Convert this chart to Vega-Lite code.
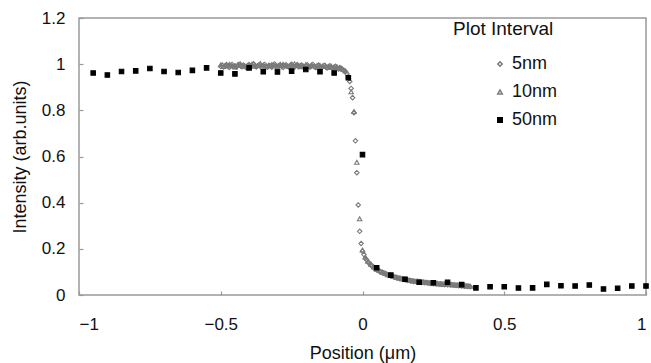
{
  "$schema": "https://vega.github.io/schema/vega-lite/v6.json",
  "width": 567,
  "height": 277,
  "autosize": "none",
  "padding": {"left": 79, "top": 18, "right": 5, "bottom": 68},
  "background": "white",
  "config": {
    "font": "Liberation Sans",
    "view": {"stroke": "#999", "strokeWidth": 1.5},
    "axis": {"grid": false, "domain": false, "tickColor": "#999", "tickWidth": 1.2, "tickSize": -4, "labelFontSize": 17, "labelColor": "#111", "titleFontSize": 18, "titleFontWeight": "normal", "titleColor": "#111"},
    "legend": {"labelFontSize": 18, "titleFontSize": 19, "titleFontWeight": "normal", "labelColor": "#111", "titleColor": "#111"}
  },
  "data": {"values": [
    {"s":"5nm","x":-0.500,"y":0.990},{"s":"5nm","x":-0.495,"y":0.996},{"s":"5nm","x":-0.490,"y":0.988},{"s":"5nm","x":-0.485,"y":0.993},{"s":"5nm","x":-0.480,"y":0.998},
    {"s":"5nm","x":-0.475,"y":0.991},{"s":"5nm","x":-0.470,"y":0.986},{"s":"5nm","x":-0.465,"y":0.994},{"s":"5nm","x":-0.460,"y":0.999},{"s":"5nm","x":-0.455,"y":0.990},
    {"s":"5nm","x":-0.450,"y":0.993},{"s":"5nm","x":-0.445,"y":0.987},{"s":"5nm","x":-0.440,"y":0.995},{"s":"5nm","x":-0.435,"y":1.000},{"s":"5nm","x":-0.430,"y":0.992},
    {"s":"5nm","x":-0.425,"y":0.989},{"s":"5nm","x":-0.420,"y":0.996},{"s":"5nm","x":-0.415,"y":0.991},{"s":"5nm","x":-0.410,"y":0.985},{"s":"5nm","x":-0.405,"y":0.994},
    {"s":"5nm","x":-0.400,"y":0.998},{"s":"5nm","x":-0.395,"y":0.990},{"s":"5nm","x":-0.390,"y":0.993},{"s":"5nm","x":-0.385,"y":1.002},{"s":"5nm","x":-0.380,"y":0.995},
    {"s":"5nm","x":-0.375,"y":0.988},{"s":"5nm","x":-0.370,"y":0.992},{"s":"5nm","x":-0.365,"y":0.997},{"s":"5nm","x":-0.360,"y":0.990},{"s":"5nm","x":-0.355,"y":0.986},
    {"s":"5nm","x":-0.350,"y":0.994},{"s":"5nm","x":-0.345,"y":0.999},{"s":"5nm","x":-0.340,"y":0.991},{"s":"5nm","x":-0.335,"y":0.988},{"s":"5nm","x":-0.330,"y":0.995},
    {"s":"5nm","x":-0.325,"y":0.992},{"s":"5nm","x":-0.320,"y":0.987},{"s":"5nm","x":-0.315,"y":0.996},{"s":"5nm","x":-0.310,"y":1.001},{"s":"5nm","x":-0.305,"y":0.993},
    {"s":"5nm","x":-0.300,"y":0.989},{"s":"5nm","x":-0.295,"y":0.994},{"s":"5nm","x":-0.290,"y":0.998},{"s":"5nm","x":-0.285,"y":0.990},{"s":"5nm","x":-0.280,"y":0.986},
    {"s":"5nm","x":-0.275,"y":0.993},{"s":"5nm","x":-0.270,"y":0.997},{"s":"5nm","x":-0.265,"y":0.991},{"s":"5nm","x":-0.260,"y":0.988},{"s":"5nm","x":-0.255,"y":0.995},
    {"s":"5nm","x":-0.250,"y":1.000},{"s":"5nm","x":-0.245,"y":0.992},{"s":"5nm","x":-0.240,"y":0.987},{"s":"5nm","x":-0.235,"y":0.994},{"s":"5nm","x":-0.230,"y":0.998},
    {"s":"5nm","x":-0.225,"y":0.990},{"s":"5nm","x":-0.220,"y":0.993},{"s":"5nm","x":-0.215,"y":0.996},{"s":"5nm","x":-0.210,"y":0.989},{"s":"5nm","x":-0.205,"y":0.985},
    {"s":"5nm","x":-0.200,"y":0.992},{"s":"5nm","x":-0.195,"y":0.997},{"s":"5nm","x":-0.190,"y":0.991},{"s":"5nm","x":-0.185,"y":0.987},{"s":"5nm","x":-0.180,"y":0.994},
    {"s":"5nm","x":-0.175,"y":0.999},{"s":"5nm","x":-0.170,"y":0.990},{"s":"5nm","x":-0.165,"y":0.986},{"s":"5nm","x":-0.160,"y":0.993},{"s":"5nm","x":-0.155,"y":0.996},
    {"s":"5nm","x":-0.150,"y":0.989},{"s":"5nm","x":-0.145,"y":0.984},{"s":"5nm","x":-0.140,"y":0.991},{"s":"5nm","x":-0.135,"y":0.995},{"s":"5nm","x":-0.130,"y":0.988},
    {"s":"5nm","x":-0.125,"y":0.983},{"s":"5nm","x":-0.120,"y":0.990},{"s":"5nm","x":-0.115,"y":0.993},{"s":"5nm","x":-0.110,"y":0.986},{"s":"5nm","x":-0.105,"y":0.981},
    {"s":"5nm","x":-0.100,"y":0.988},{"s":"5nm","x":-0.095,"y":0.991},{"s":"5nm","x":-0.090,"y":0.984},{"s":"5nm","x":-0.085,"y":0.979},{"s":"5nm","x":-0.080,"y":0.985},
    {"s":"5nm","x":-0.075,"y":0.982},{"s":"5nm","x":-0.070,"y":0.976},{"s":"5nm","x":-0.065,"y":0.972},{"s":"5nm","x":-0.060,"y":0.968},{"s":"5nm","x":-0.055,"y":0.958},
    {"s":"5nm","x":-0.050,"y":0.945},{"s":"5nm","x":-0.045,"y":0.925},{"s":"5nm","x":-0.040,"y":0.895},{"s":"5nm","x":-0.035,"y":0.855},{"s":"5nm","x":-0.030,"y":0.790},
    {"s":"5nm","x":-0.025,"y":0.668},{"s":"5nm","x":-0.020,"y":0.530},{"s":"5nm","x":-0.015,"y":0.390},{"s":"5nm","x":-0.010,"y":0.276},{"s":"5nm","x":-0.005,"y":0.223},
    {"s":"5nm","x":0.000,"y":0.190},{"s":"5nm","x":0.005,"y":0.175},{"s":"5nm","x":0.010,"y":0.158},{"s":"5nm","x":0.015,"y":0.152},{"s":"5nm","x":0.020,"y":0.141},
    {"s":"5nm","x":0.025,"y":0.138},{"s":"5nm","x":0.030,"y":0.128},{"s":"5nm","x":0.035,"y":0.126},{"s":"5nm","x":0.040,"y":0.117},{"s":"5nm","x":0.045,"y":0.116},
    {"s":"5nm","x":0.050,"y":0.109},{"s":"5nm","x":0.055,"y":0.108},{"s":"5nm","x":0.060,"y":0.102},{"s":"5nm","x":0.065,"y":0.101},{"s":"5nm","x":0.070,"y":0.096},
    {"s":"5nm","x":0.075,"y":0.096},{"s":"5nm","x":0.080,"y":0.091},{"s":"5nm","x":0.085,"y":0.091},{"s":"5nm","x":0.090,"y":0.086},{"s":"5nm","x":0.095,"y":0.086},
    {"s":"5nm","x":0.100,"y":0.082},{"s":"5nm","x":0.105,"y":0.082},{"s":"5nm","x":0.110,"y":0.078},{"s":"5nm","x":0.115,"y":0.078},{"s":"5nm","x":0.120,"y":0.075},
    {"s":"5nm","x":0.125,"y":0.075},{"s":"5nm","x":0.130,"y":0.071},{"s":"5nm","x":0.135,"y":0.072},{"s":"5nm","x":0.140,"y":0.068},{"s":"5nm","x":0.145,"y":0.069},
    {"s":"5nm","x":0.150,"y":0.066},{"s":"5nm","x":0.155,"y":0.067},{"s":"5nm","x":0.160,"y":0.063},{"s":"5nm","x":0.165,"y":0.064},{"s":"5nm","x":0.170,"y":0.061},
    {"s":"5nm","x":0.175,"y":0.062},{"s":"5nm","x":0.180,"y":0.059},{"s":"5nm","x":0.185,"y":0.060},{"s":"5nm","x":0.190,"y":0.057},{"s":"5nm","x":0.195,"y":0.059},
    {"s":"5nm","x":0.200,"y":0.056},{"s":"5nm","x":0.205,"y":0.057},{"s":"5nm","x":0.210,"y":0.054},{"s":"5nm","x":0.215,"y":0.056},{"s":"5nm","x":0.220,"y":0.053},
    {"s":"5nm","x":0.225,"y":0.054},{"s":"5nm","x":0.230,"y":0.052},{"s":"5nm","x":0.235,"y":0.053},{"s":"5nm","x":0.240,"y":0.050},{"s":"5nm","x":0.245,"y":0.052},
    {"s":"5nm","x":0.250,"y":0.049},{"s":"5nm","x":0.255,"y":0.051},{"s":"5nm","x":0.260,"y":0.048},{"s":"5nm","x":0.265,"y":0.050},{"s":"5nm","x":0.270,"y":0.047},
    {"s":"5nm","x":0.275,"y":0.049},{"s":"5nm","x":0.280,"y":0.046},{"s":"5nm","x":0.285,"y":0.048},{"s":"5nm","x":0.290,"y":0.045},{"s":"5nm","x":0.295,"y":0.047},
    {"s":"5nm","x":0.300,"y":0.044},{"s":"5nm","x":0.305,"y":0.046},{"s":"5nm","x":0.310,"y":0.043},{"s":"5nm","x":0.315,"y":0.045},{"s":"5nm","x":0.320,"y":0.042},
    {"s":"5nm","x":0.325,"y":0.044},{"s":"5nm","x":0.330,"y":0.041},{"s":"5nm","x":0.335,"y":0.043},{"s":"5nm","x":0.340,"y":0.040},{"s":"5nm","x":0.345,"y":0.042},
    {"s":"5nm","x":0.350,"y":0.039},{"s":"5nm","x":0.355,"y":0.041},{"s":"5nm","x":0.360,"y":0.038},{"s":"5nm","x":0.365,"y":0.040},{"s":"5nm","x":0.370,"y":0.037},
    {"s":"5nm","x":0.375,"y":0.039},{"s":"5nm","x":0.380,"y":0.036},
    {"s":"10nm","x":-0.50,"y":0.997},{"s":"10nm","x":-0.49,"y":0.990},{"s":"10nm","x":-0.48,"y":0.994},{"s":"10nm","x":-0.47,"y":0.999},{"s":"10nm","x":-0.46,"y":0.992},
    {"s":"10nm","x":-0.45,"y":0.988},{"s":"10nm","x":-0.44,"y":0.996},{"s":"10nm","x":-0.43,"y":1.001},{"s":"10nm","x":-0.42,"y":0.993},{"s":"10nm","x":-0.41,"y":0.990},
    {"s":"10nm","x":-0.40,"y":0.995},{"s":"10nm","x":-0.39,"y":0.999},{"s":"10nm","x":-0.38,"y":0.991},{"s":"10nm","x":-0.37,"y":0.994},{"s":"10nm","x":-0.36,"y":1.003},
    {"s":"10nm","x":-0.35,"y":0.996},{"s":"10nm","x":-0.34,"y":0.989},{"s":"10nm","x":-0.33,"y":0.993},{"s":"10nm","x":-0.32,"y":0.998},{"s":"10nm","x":-0.31,"y":0.992},
    {"s":"10nm","x":-0.30,"y":0.987},{"s":"10nm","x":-0.29,"y":0.995},{"s":"10nm","x":-0.28,"y":1.000},{"s":"10nm","x":-0.27,"y":0.993},{"s":"10nm","x":-0.26,"y":0.990},
    {"s":"10nm","x":-0.25,"y":0.996},{"s":"10nm","x":-0.24,"y":1.002},{"s":"10nm","x":-0.23,"y":0.994},{"s":"10nm","x":-0.22,"y":0.989},{"s":"10nm","x":-0.21,"y":0.993},
    {"s":"10nm","x":-0.20,"y":0.998},{"s":"10nm","x":-0.19,"y":0.991},{"s":"10nm","x":-0.18,"y":0.996},{"s":"10nm","x":-0.17,"y":0.992},{"s":"10nm","x":-0.16,"y":0.987},
    {"s":"10nm","x":-0.15,"y":0.994},{"s":"10nm","x":-0.14,"y":0.990},{"s":"10nm","x":-0.13,"y":0.993},{"s":"10nm","x":-0.12,"y":0.986},{"s":"10nm","x":-0.11,"y":0.991},
    {"s":"10nm","x":-0.10,"y":0.985},{"s":"10nm","x":-0.09,"y":0.989},{"s":"10nm","x":-0.08,"y":0.983},{"s":"10nm","x":-0.07,"y":0.978},{"s":"10nm","x":-0.06,"y":0.970},
    {"s":"10nm","x":-0.05,"y":0.948},{"s":"10nm","x":-0.04,"y":0.880},{"s":"10nm","x":-0.03,"y":0.795},{"s":"10nm","x":-0.02,"y":0.575},{"s":"10nm","x":-0.01,"y":0.330},
    {"s":"10nm","x":0.00,"y":0.195},{"s":"10nm","x":0.01,"y":0.165},{"s":"10nm","x":0.02,"y":0.146},{"s":"10nm","x":0.03,"y":0.133},{"s":"10nm","x":0.04,"y":0.121},
    {"s":"10nm","x":0.05,"y":0.112},{"s":"10nm","x":0.06,"y":0.106},{"s":"10nm","x":0.07,"y":0.099},{"s":"10nm","x":0.08,"y":0.094},{"s":"10nm","x":0.09,"y":0.088},
    {"s":"10nm","x":0.10,"y":0.084},{"s":"10nm","x":0.11,"y":0.080},{"s":"10nm","x":0.12,"y":0.077},{"s":"10nm","x":0.13,"y":0.073},{"s":"10nm","x":0.14,"y":0.070},
    {"s":"10nm","x":0.15,"y":0.068},{"s":"10nm","x":0.16,"y":0.065},{"s":"10nm","x":0.17,"y":0.063},{"s":"10nm","x":0.18,"y":0.061},{"s":"10nm","x":0.19,"y":0.059},
    {"s":"10nm","x":0.20,"y":0.058},{"s":"10nm","x":0.21,"y":0.056},{"s":"10nm","x":0.22,"y":0.055},{"s":"10nm","x":0.23,"y":0.054},{"s":"10nm","x":0.24,"y":0.052},
    {"s":"10nm","x":0.25,"y":0.051},{"s":"10nm","x":0.26,"y":0.050},{"s":"10nm","x":0.27,"y":0.049},{"s":"10nm","x":0.28,"y":0.048},{"s":"10nm","x":0.29,"y":0.047},
    {"s":"10nm","x":0.30,"y":0.046},{"s":"10nm","x":0.31,"y":0.045},{"s":"10nm","x":0.32,"y":0.044},{"s":"10nm","x":0.33,"y":0.043},{"s":"10nm","x":0.34,"y":0.042},
    {"s":"10nm","x":0.35,"y":0.041},{"s":"10nm","x":0.36,"y":0.040},{"s":"10nm","x":0.37,"y":0.039},{"s":"10nm","x":0.38,"y":0.038},
    {"s":"50nm","x":-0.95,"y":0.962},{"s":"50nm","x":-0.90,"y":0.953},{"s":"50nm","x":-0.85,"y":0.968},{"s":"50nm","x":-0.80,"y":0.971},{"s":"50nm","x":-0.75,"y":0.981},
    {"s":"50nm","x":-0.70,"y":0.968},{"s":"50nm","x":-0.65,"y":0.964},{"s":"50nm","x":-0.60,"y":0.973},{"s":"50nm","x":-0.55,"y":0.984},{"s":"50nm","x":-0.50,"y":0.962},
    {"s":"50nm","x":-0.45,"y":0.958},{"s":"50nm","x":-0.40,"y":0.984},{"s":"50nm","x":-0.35,"y":0.967},{"s":"50nm","x":-0.30,"y":0.966},{"s":"50nm","x":-0.25,"y":0.970},
    {"s":"50nm","x":-0.20,"y":0.977},{"s":"50nm","x":-0.15,"y":0.967},{"s":"50nm","x":-0.10,"y":0.962},{"s":"50nm","x":-0.05,"y":0.941},{"s":"50nm","x":0.00,"y":0.608},
    {"s":"50nm","x":0.05,"y":0.118},{"s":"50nm","x":0.10,"y":0.086},{"s":"50nm","x":0.15,"y":0.068},{"s":"50nm","x":0.20,"y":0.055},{"s":"50nm","x":0.25,"y":0.053},
    {"s":"50nm","x":0.30,"y":0.055},{"s":"50nm","x":0.35,"y":0.045},{"s":"50nm","x":0.40,"y":0.031},{"s":"50nm","x":0.45,"y":0.036},{"s":"50nm","x":0.50,"y":0.036},
    {"s":"50nm","x":0.55,"y":0.030},{"s":"50nm","x":0.60,"y":0.031},{"s":"50nm","x":0.65,"y":0.046},{"s":"50nm","x":0.70,"y":0.040},{"s":"50nm","x":0.75,"y":0.039},
    {"s":"50nm","x":0.80,"y":0.043},{"s":"50nm","x":0.85,"y":0.026},{"s":"50nm","x":0.90,"y":0.029},{"s":"50nm","x":0.95,"y":0.039},{"s":"50nm","x":1.00,"y":0.039}
  ]},
  "mark": {"type": "point", "strokeWidth": 1.1, "opacity": 1},
  "encoding": {
    "x": {"field": "x", "type": "quantitative", "scale": {"domain": [-1, 1], "nice": false},
      "axis": {"values": [-1, -0.5, 0, 0.5, 1], "format": "~g", "labelPadding": 25, "title": "Position (μm)", "titlePadding": 12}},
    "y": {"field": "y", "type": "quantitative", "scale": {"domain": [0, 1.2], "nice": false},
      "axis": {"values": [0, 0.2, 0.4, 0.6, 0.8, 1, 1.2], "format": "~g", "labelPadding": 18, "title": "Intensity (arb.units)", "titlePadding": 12}},
    "shape": {"field": "s", "type": "nominal", "sort": ["5nm", "10nm", "50nm"],
      "scale": {"domain": ["5nm", "10nm", "50nm"], "range": ["diamond", "triangle-up", "square"]},
      "legend": {"title": "Plot Interval", "orient": "none", "legendX": 374, "legendY": 2, "titlePadding": 16, "rowPadding": 10, "labelOffset": 3, "symbolOffset": 38}},
    "stroke": {"field": "s", "type": "nominal", "sort": ["5nm", "10nm", "50nm"],
      "scale": {"domain": ["5nm", "10nm", "50nm"], "range": ["#7a7a7a", "#7a7a7a", "#000000"]}},
    "fill": {"field": "s", "type": "nominal", "sort": ["5nm", "10nm", "50nm"],
      "scale": {"domain": ["5nm", "10nm", "50nm"], "range": ["rgba(0,0,0,0)", "rgba(0,0,0,0)", "#000000"]}},
    "size": {"field": "s", "type": "nominal", "sort": ["5nm", "10nm", "50nm"],
      "scale": {"domain": ["5nm", "10nm", "50nm"], "range": [20, 20, 62]}}
  }
}
